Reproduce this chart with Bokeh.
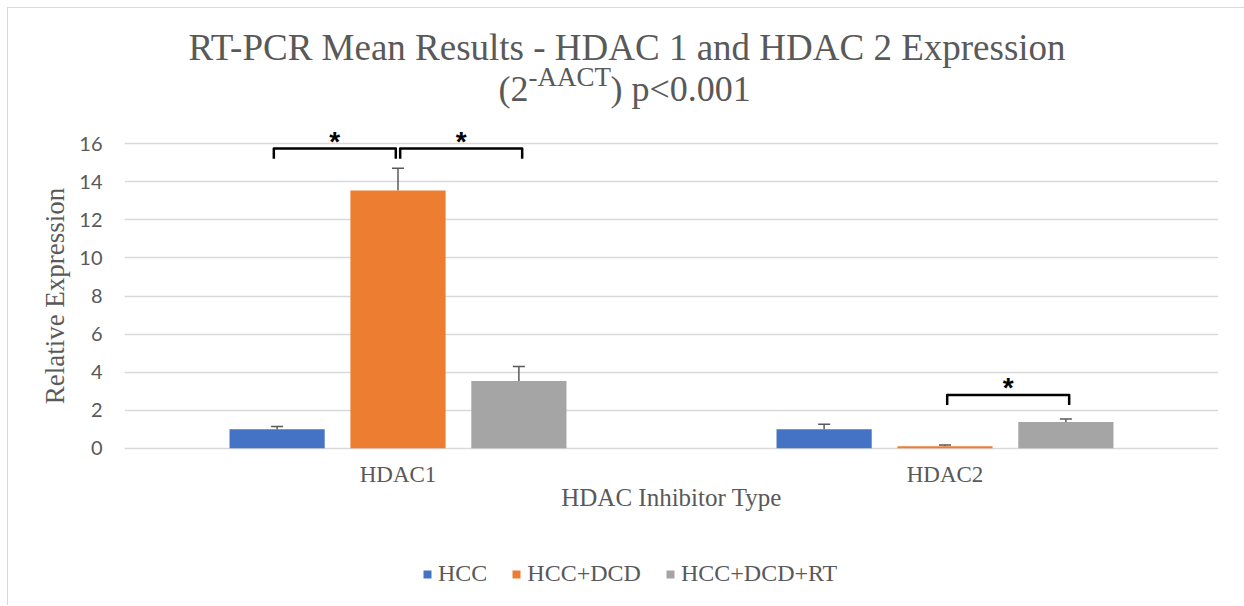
import numpy as np
from bokeh.plotting import figure
from bokeh.layouts import column
from bokeh.models import (ColumnDataSource, Range1d, FixedTicker, Whisker, TeeHead,
                          LabelSet, Legend, LegendItem)
from bokeh.core.properties import value
from bokeh.embed import file_html
from bokeh.resources import INLINE

# ---------------- data ----------------
categories = ["HDAC1", "HDAC2"]
series_names = ["HCC", "HCC+DCD", "HCC+DCD+RT"]
hcc = [1.00, 1.00]
hcc_err = [0.14, 0.26]
hcc_dcd = [13.54, 0.10]
hcc_dcd_err = [1.18, 0.07]
hcc_dcd_rt = [3.53, 1.37]
hcc_dcd_rt_err = [0.76, 0.17]
y_ticks = [0, 2, 4, 6, 8, 10, 12, 14, 16]

# significance brackets
sig_category = ["HDAC1", "HDAC1", "HDAC2"]
sig_from = ["HCC", "HCC+DCD", "HCC+DCD"]
sig_to = ["HCC+DCD", "HCC+DCD+RT", "HCC+DCD+RT"]
sig_level = [15.75, 15.75, 2.80]
sig_mark = ["*", "*", "*"]

title_line1 = "RT-PCR Mean Results - HDAC 1 and HDAC 2 Expression"
title_pre = "(2"
title_sup = "-AACT"
title_post = ") p<0.001"
x_title = "HDAC Inhibitor Type"
y_title = "Relative Expression"

# ---------------- style ----------------
colors = ["#4472C4", "#ED7D31", "#A5A5A5"]
text_gray = "#595959"
grid_gray = "#d9d9d9"
serif = "Liberation Serif"
offsets = [-0.221, 0.0, 0.221]
bar_width = 0.174
W = 1236
LEFT, RIGHT = 116, 26
FRAME_W = W - LEFT - RIGHT
HEAD_H, MAIN_H, FOOT_H = 107, 415, 75

values = [hcc, hcc_dcd, hcc_dcd_rt]
errors = [hcc_err, hcc_dcd_err, hcc_dcd_rt_err]
cat_center = {c: i + 0.5 for i, c in enumerate(categories)}


def bare(height, xr, yr):
    f = figure(width=W, height=height, output_backend="svg", toolbar_location=None,
               x_range=xr, y_range=yr, x_axis_type=None, y_axis_type=None,
               min_border_left=LEFT, min_border_right=RIGHT,
               min_border_top=0, min_border_bottom=0)
    f.outline_line_color = None
    f.xgrid.grid_line_color = None
    f.ygrid.grid_line_color = None
    return f


# ---------------- header (title) ----------------
head = bare(HEAD_H, Range1d(0, FRAME_W), Range1d(0, HEAD_H))
tkw = dict(text_baseline="alphabetic", text_font=value(serif), text_color=text_gray)
head.text(x=[502.5], y=[68.5], text=[title_line1], text_align="center",
          text_font_size="37px", **tkw)
head.text(x=[404], y=[26.5], text=[title_pre], text_align="right",
          text_font_size="36px", **tkw)
head.text(x=[404], y=[38.5], text=[title_sup], text_align="left",
          text_font_size="27px", **tkw)
head.text(x=[486], y=[26.5], text=[title_post], text_align="left",
          text_font_size="36px", **tkw)

# ---------------- main chart ----------------
p = figure(width=W, height=MAIN_H, output_backend="svg", toolbar_location=None,
           x_range=Range1d(0, len(categories)), y_range=Range1d(-0.7, 16.7),
           min_border_left=LEFT, min_border_right=RIGHT, min_border_top=15,
           min_border_bottom=69)
p.outline_line_color = None

# y axis
p.yaxis.ticker = FixedTicker(ticks=y_ticks)
p.yaxis.axis_line_color = None
p.yaxis.major_tick_line_color = None
p.yaxis.minor_tick_line_color = None
p.yaxis.major_tick_out = 0
p.yaxis.major_tick_in = 0
p.yaxis.major_label_text_font = "Lato"
p.yaxis.major_label_text_font_size = "20px"
p.yaxis.major_label_text_color = text_gray
p.yaxis.major_label_standoff = 22
p.yaxis.axis_label = y_title
p.yaxis.axis_label_text_font = serif
p.yaxis.axis_label_text_font_size = "27px"
p.yaxis.axis_label_text_font_style = "normal"
p.yaxis.axis_label_text_color = text_gray
p.yaxis.axis_label_standoff = 6

# x axis
p.xaxis.ticker = FixedTicker(ticks=[cat_center[c] for c in categories])
p.xaxis.major_label_overrides = {cat_center[c]: c for c in categories}
p.xaxis.axis_line_color = None
p.xaxis.major_tick_line_color = None
p.xaxis.minor_tick_line_color = None
p.xaxis.major_tick_out = 0
p.xaxis.major_tick_in = 0
p.xaxis.major_label_text_font = serif
p.xaxis.major_label_text_font_size = "23px"
p.xaxis.major_label_text_color = text_gray
p.xaxis.major_label_standoff = 0
p.xaxis.axis_label = x_title
p.xaxis.axis_label_text_font = serif
p.xaxis.axis_label_text_font_size = "25px"
p.xaxis.axis_label_text_font_style = "normal"
p.xaxis.axis_label_text_color = text_gray
p.xaxis.axis_label_standoff = -6

p.xgrid.grid_line_color = None
p.ygrid.grid_line_color = grid_gray
p.ygrid.grid_line_width = 1.3

# bars + error bars
for k, name in enumerate(series_names):
    xs = [cat_center[c] + offsets[k] for c in categories]
    src = ColumnDataSource(dict(x=xs, top=values[k],
                                upper=[v + e for v, e in zip(values[k], errors[k])]))
    p.vbar(x="x", top="top", bottom=0, width=bar_width, source=src,
           fill_color=colors[k], line_color=None)
    w = Whisker(base="x", lower="top", upper="upper", source=src, dimension="height",
                line_color=text_gray, line_width=1.5, lower_head=None,
                upper_head=TeeHead(size=12, line_color=text_gray, line_width=1.5))
    p.add_layout(w)

# significance brackets
leg = 0.53
bx, by, mx, my = [], [], [], []
for c, a, b, lvl in zip(sig_category, sig_from, sig_to, sig_level):
    ia, ib = series_names.index(a), series_names.index(b)
    x0 = cat_center[c] + offsets[ia] + (-0.006 if ia == 0 else 0.004)
    x1 = cat_center[c] + offsets[ib] + (-0.004 if ib == 1 else 0.006)
    bx.append([x0, x0, x1, x1])
    by.append([lvl - leg, lvl, lvl, lvl - leg])
    mx.append((x0 + x1) / 2)
    my.append(lvl - 0.12)
p.multi_line(xs=bx, ys=by, line_color="black", line_width=2.5, line_join="round")
star_src = ColumnDataSource(dict(x=mx, y=my, t=sig_mark))
p.add_layout(LabelSet(x="x", y="y", text="t", source=star_src, text_align="center",
                      text_baseline="alphabetic", text_font=value("Liberation Sans"),
                      text_font_size="28px", text_font_style="bold", text_color="black"))

# ---------------- footer (legend) ----------------
# same series drawn against a y range that keeps them out of view; only the legend shows
foot = bare(FOOT_H, Range1d(0, len(categories)), Range1d(1000, 1001))
items = []
for k, name in enumerate(series_names):
    xs = [cat_center[c] + offsets[k] for c in categories]
    r = foot.vbar(x=xs, top=values[k], bottom=0, width=bar_width,
                  fill_color=colors[k], line_color=None)
    items.append(LegendItem(label=name, renderers=[r]))
legend = Legend(items=items, orientation="horizontal", location=(298, 18),
                glyph_width=10, glyph_height=10, label_standoff=6, spacing=24,
                padding=0, margin=0, border_line_color=None, background_fill_alpha=0,
                label_text_font=serif, label_text_font_size="24px",
                label_text_color=text_gray)
foot.add_layout(legend)

layout = column(head, p, foot, spacing=0,
                styles={"margin-left": "7px", "margin-top": "7px",
                        "border-left": "1px solid #d9d9d9",
                        "border-top": "1px solid #d9d9d9"})

open("out.html", "w").write(file_html(layout, INLINE))
